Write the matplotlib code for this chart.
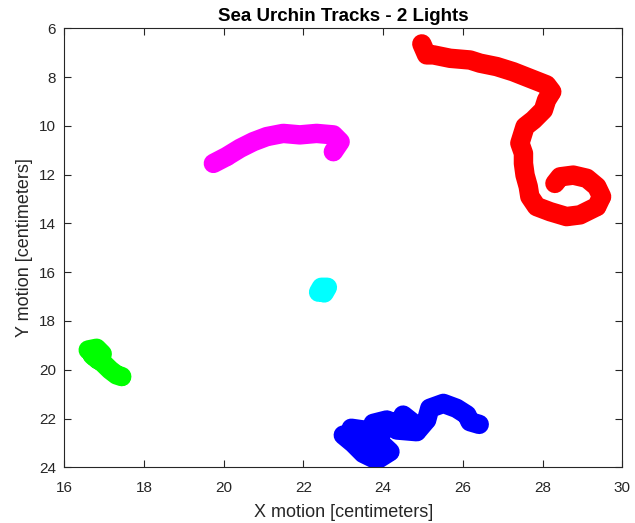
import matplotlib.pyplot as plt

plt.rcParams['font.family'] = ['Liberation Sans', 'DejaVu Sans']

# urchin positions (cm), one track per animal
red_x = [24.97, 25.09, 25.26, 25.68, 26.18, 26.43, 26.85, 27.26, 27.68, 28.10, 28.23,
         28.10, 28.02, 27.77, 27.56, 27.43, 27.52, 27.52, 27.56, 27.64, 27.68, 27.85,
         28.19, 28.60, 28.94, 29.36, 29.48, 29.36, 29.11, 28.77, 28.44, 28.31]
red_y = [6.64, 7.09, 7.09, 7.23, 7.30, 7.43, 7.57, 7.78, 8.05, 8.32, 8.60,
         8.94, 9.35, 9.76, 10.03, 10.71, 11.13, 11.54, 12.02, 12.49, 12.90, 13.31,
         13.52, 13.72, 13.65, 13.31, 12.90, 12.49, 12.15, 12.02, 12.09, 12.36]

magenta_x = [19.74, 20.07, 20.41, 20.74, 21.08, 21.49, 21.91, 22.33, 22.75, 22.92, 22.75]
magenta_y = [11.54, 11.26, 10.92, 10.65, 10.44, 10.31, 10.37, 10.31, 10.37, 10.65, 11.06]

blue_x = [23.00, 23.25, 23.50, 23.84, 24.17, 24.00, 23.70, 23.40, 23.20, 23.50, 23.84,
          24.00, 23.75, 24.09, 24.30, 24.60, 24.84, 24.50, 24.34, 24.84, 25.09,
          25.17, 25.51, 25.84, 26.10, 26.18, 26.41]
blue_y = [22.68, 23.02, 23.43, 23.70, 23.36, 23.10, 23.30, 22.90, 22.40, 22.47, 22.88,
          22.50, 22.20, 22.06, 22.20, 22.20, 22.30, 21.86, 22.47, 22.54, 22.06,
          21.58, 21.38, 21.58, 21.85, 22.13, 22.24]

cyan_x = [22.38, 22.45, 22.60, 22.52, 22.50]
cyan_y = [16.82, 16.62, 16.62, 16.85, 16.72]

green_x = [16.60, 16.81, 16.95, 16.85, 16.70, 16.77, 16.98, 17.15, 17.31, 17.44]
green_y = [19.19, 19.12, 19.35, 19.60, 19.40, 19.46, 19.74, 20.01, 20.21, 20.28]

tracks = [(red_x, red_y, '#ff0000'),
          (magenta_x, magenta_y, '#ff00ff'),
          (blue_x, blue_y, '#0000ff'),
          (cyan_x, cyan_y, '#00ffff'),
          (green_x, green_y, '#00ff00')]

fig = plt.figure(figsize=(6.35, 5.23), dpi=100)
ax = fig.add_axes([0.1013, 0.1065, 0.8787, 0.8394])

for x, y, c in tracks:
    ax.plot(x, y, '-', color=c, lw=14, solid_joinstyle='round', solid_capstyle='round')
    ax.plot(x, y, 'o', color=c, ms=9, mew=3, mfc='none')

ax.set_xlim(16, 30)
ax.set_ylim(24, 6)
ax.set_xticks(range(16, 31, 2))
ax.set_yticks(range(6, 25, 2))
ax.tick_params(direction='in', top=True, right=True, length=5, width=0.8,
               labelsize=11, colors='#262626', labelcolor='#262626')
ax.tick_params(axis='x', pad=10)
ax.tick_params(axis='y', pad=6)
for s in ax.spines.values():
    s.set_linewidth(0.8)
    s.set_color('#262626')

ax.set_xlabel('X motion [centimeters]', fontsize=13, color='#262626', labelpad=6)
ax.set_ylabel('Y motion [centimeters]', fontsize=13, color='#262626', labelpad=4)
ax.set_title('Sea Urchin Tracks - 2 Lights', fontsize=13.5, fontweight='bold', pad=5)

fig.savefig('out.png', dpi=100)
